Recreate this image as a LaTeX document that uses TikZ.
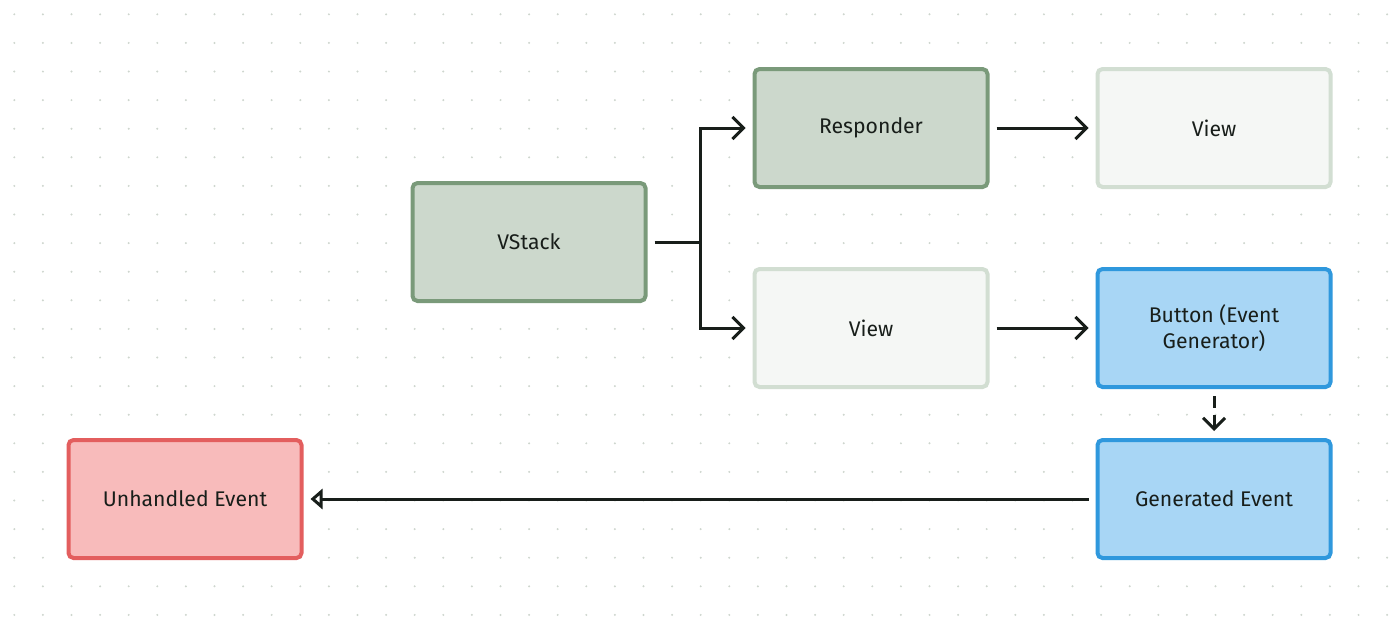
\documentclass[tikz,border=0pt]{standalone}
\usepackage{fontspec}
\setmainfont{Fira Sans}
\usetikzlibrary{arrows.meta}

\definecolor{gridgray}{RGB}{206,214,206}
\definecolor{greenfill}{RGB}{204,216,204}
\definecolor{greenline}{RGB}{122,154,122}
\definecolor{palefill}{RGB}{245,247,245}
\definecolor{paleline}{RGB}{210,222,210}
\definecolor{bluefill}{RGB}{168,214,245}
\definecolor{blueline}{RGB}{47,152,221}
\definecolor{redfill}{RGB}{248,187,187}
\definecolor{redline}{RGB}{227,94,94}
\definecolor{inkdark}{RGB}{24,30,26}

\tikzset{
  box/.style={draw, line width=2pt, rounded corners=2.5pt, minimum width=116.5pt,
    minimum height=59pt, align=center, text=inkdark, font=\fontsize{10.6}{13}\selectfont},
  greenbox/.style={box, fill=greenfill, draw=greenline},
  palebox/.style={box, fill=palefill, draw=paleline},
  bluebox/.style={box, fill=bluefill, draw=blueline},
  redbox/.style={box, fill=redfill, draw=redline},
  wire/.style={line width=1.5pt, draw=inkdark},
  link/.style={wire, shorten >=3.5pt, shorten <=3.5pt,
    -{Straight Barb[length=5.5pt,width=11pt,line width=1.5pt]}}
}

\begin{document}
\begin{tikzpicture}[x=0.5pt,y=-0.5pt]
  \useasboundingbox[fill=white] (0,0) rectangle (1400,628);
  % dotted background
  \foreach \i in {0,...,48}
    \foreach \j in {0,...,21}
      \fill[gridgray] (14.3+28.6*\i,14.3+28.6*\j) circle[radius=1.1];

  \node[greenbox] (vstack) at (529,242) {VStack};
  \node[greenbox] (responder) at (871,128) {Responder};
  \node[palebox] (viewtop) at (1214,128) {View};
  \node[palebox] (viewmid) at (871,328) {View};
  \node[bluebox] (button) at (1214,328) {Button (Event\\Generator)};
  \node[bluebox] (genevent) at (1214,499) {Generated Event};
  \node[redbox] (unhandled) at (185,499) {Unhandled Event};

  \coordinate (split) at (700,242);
  \draw[wire,shorten <=3.5pt] (vstack.east) -- (split);
  \draw[link,shorten <=0pt] (split) |- (responder.west);
  \draw[link,shorten <=0pt] (split) |- (viewmid.west);
  \draw[link] (responder) -- (viewtop);
  \draw[link] (viewmid) -- (button);
  \draw[link,dash pattern=on 6pt off 3.5pt] (button) -- (genevent);
  \draw[wire,shorten >=3.5pt,shorten <=3.5pt,
    -{Triangle[open,length=6pt,width=10pt,line width=1.5pt]}] (genevent) -- (unhandled);
\end{tikzpicture}
\end{document}
